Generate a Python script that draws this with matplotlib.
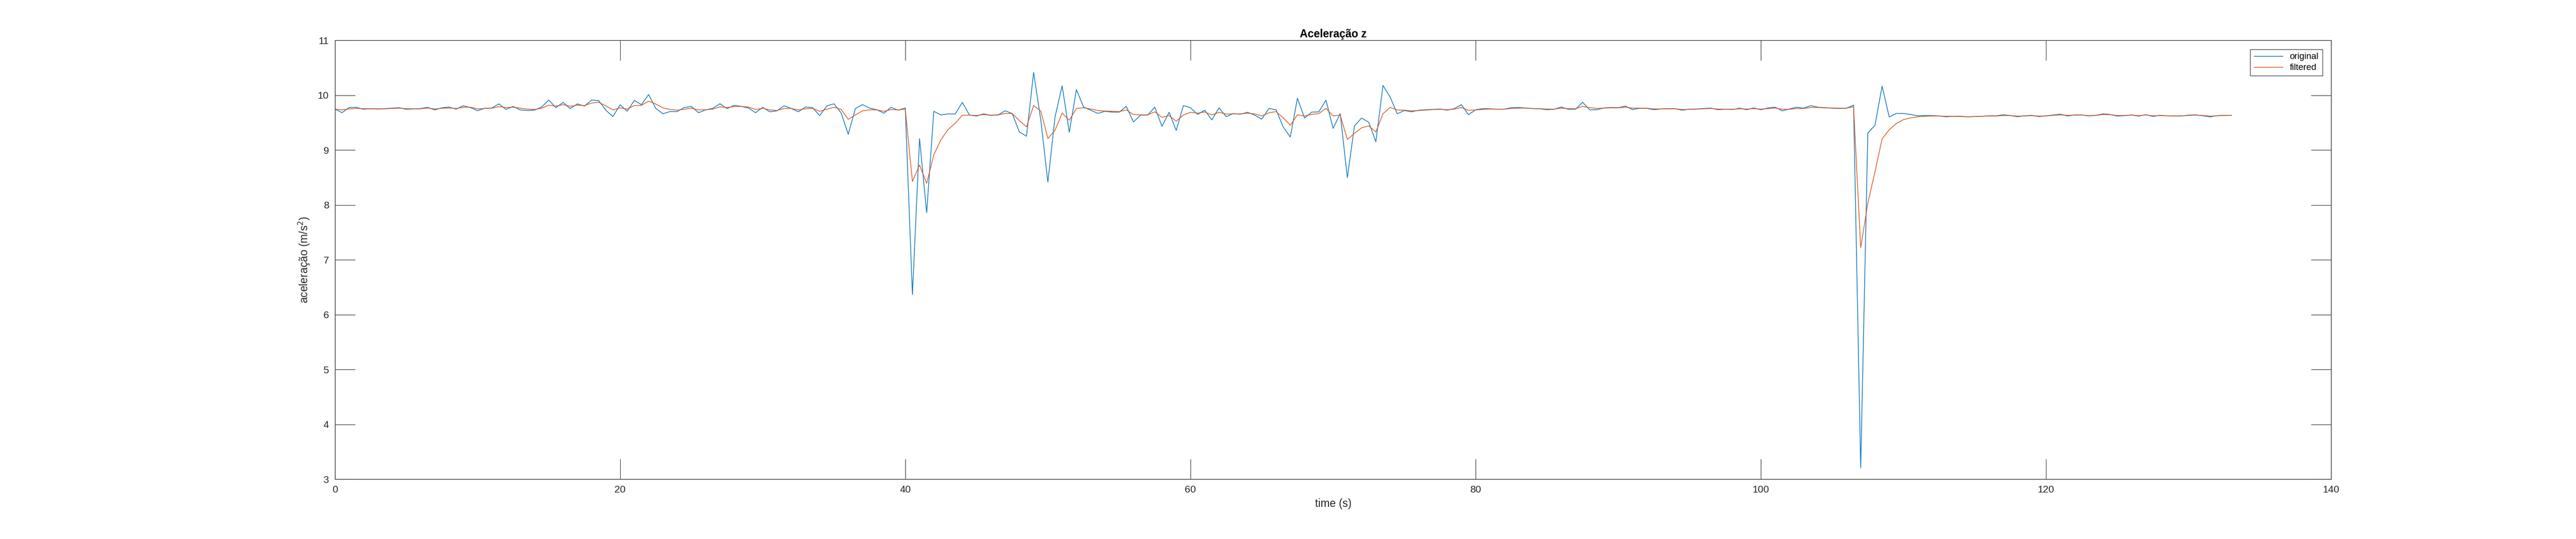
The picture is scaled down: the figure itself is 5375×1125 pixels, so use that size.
import numpy as np
import matplotlib

matplotlib.use("Agg")
import matplotlib.pyplot as plt

plt.rcParams["font.family"] = ["Liberation Sans", "DejaVu Sans"]

# sample period of the recording (s)
SAMPLE_PERIOD = 0.5

# acceleration z, raw signal (m/s^2), one value every 0.5 s from t = 0
original = [
    9.745, 9.68, 9.774, 9.777, 9.742, 9.754, 9.745, 9.754, 9.762, 9.771,
    9.742, 9.748, 9.754, 9.777, 9.73, 9.768, 9.783, 9.745, 9.806, 9.774,
    9.716, 9.759, 9.765, 9.84, 9.739, 9.794, 9.73, 9.72, 9.727, 9.783,
    9.91, 9.771, 9.867, 9.754, 9.84, 9.80, 9.91, 9.90, 9.725, 9.61,
    9.823, 9.707, 9.904, 9.826, 10.01, 9.76, 9.66, 9.70, 9.70, 9.774,
    9.794, 9.68, 9.73, 9.76, 9.843, 9.754, 9.814, 9.794, 9.765, 9.68,
    9.777, 9.696, 9.713, 9.806, 9.757, 9.696, 9.783, 9.771, 9.626, 9.804,
    9.842, 9.676, 9.286, 9.755, 9.827, 9.763, 9.734, 9.67, 9.778, 9.725,
    9.766, 6.363, 9.207, 7.856, 9.705, 9.638, 9.658, 9.655, 9.868, 9.638,
    9.618, 9.658, 9.629, 9.638, 9.714, 9.664, 9.33, 9.251, 10.415, 9.55,
    8.415, 9.60, 10.17, 9.323, 10.10, 9.783, 9.725, 9.667, 9.705, 9.69,
    9.69, 9.795, 9.51, 9.635, 9.638, 9.78, 9.431, 9.687, 9.355, 9.81,
    9.769, 9.649, 9.725, 9.547, 9.769, 9.608, 9.664, 9.652, 9.687, 9.635,
    9.562, 9.757, 9.734, 9.42, 9.236, 9.943, 9.582, 9.69, 9.695, 9.908,
    9.393, 9.663, 8.496, 9.439, 9.582, 9.506, 9.151, 10.176, 9.966, 9.66,
    9.719, 9.696, 9.725, 9.733, 9.739, 9.748, 9.725, 9.754, 9.826, 9.643,
    9.733, 9.754, 9.751, 9.745, 9.745, 9.771, 9.774, 9.765, 9.754, 9.751,
    9.734, 9.742, 9.783, 9.742, 9.742, 9.87, 9.731, 9.734, 9.766, 9.774,
    9.771, 9.8, 9.737, 9.76, 9.757, 9.734, 9.748, 9.754, 9.751, 9.725,
    9.745, 9.748, 9.757, 9.763, 9.734, 9.745, 9.737, 9.763, 9.734, 9.766,
    9.734, 9.766, 9.78, 9.714, 9.747, 9.78, 9.761, 9.808, 9.78, 9.77,
    9.761, 9.756, 9.761, 9.818, 3.205, 9.311, 9.448, 10.163, 9.60, 9.666,
    9.666, 9.647, 9.623, 9.628, 9.628, 9.619, 9.605, 9.614, 9.614, 9.605,
    9.609, 9.614, 9.623, 9.623, 9.642, 9.628, 9.606, 9.623, 9.632, 9.608,
    9.623, 9.638, 9.652, 9.62, 9.638, 9.638, 9.62, 9.632, 9.658, 9.646,
    9.617, 9.626, 9.638, 9.617, 9.643, 9.611, 9.632, 9.623, 9.62, 9.62,
    9.635, 9.64, 9.623, 9.603, 9.626, 9.632, 9.632,
]

# same signal after the low-pass filter
filtered = [
    9.745, 9.73, 9.748, 9.757, 9.754, 9.751, 9.751, 9.75, 9.757, 9.762,
    9.754, 9.75, 9.75, 9.765, 9.748, 9.76, 9.765, 9.757, 9.777, 9.78,
    9.75, 9.757, 9.762, 9.79, 9.774, 9.78, 9.762, 9.745, 9.739, 9.76,
    9.817, 9.80, 9.826, 9.797, 9.817, 9.81, 9.855, 9.87, 9.806, 9.73,
    9.768, 9.745, 9.81, 9.814, 9.89, 9.838, 9.768, 9.739, 9.725, 9.742,
    9.762, 9.73, 9.733, 9.745, 9.786, 9.774, 9.791, 9.794, 9.783, 9.739,
    9.76, 9.73, 9.72, 9.757, 9.757, 9.73, 9.75, 9.76, 9.705, 9.743,
    9.78, 9.74, 9.559, 9.638, 9.714, 9.731, 9.731, 9.705, 9.737, 9.731,
    9.743, 8.427, 8.727, 8.392, 8.91, 9.187, 9.373, 9.487, 9.632, 9.635,
    9.629, 9.644, 9.635, 9.638, 9.667, 9.664, 9.536, 9.422, 9.81, 9.711,
    9.21, 9.36, 9.672, 9.541, 9.757, 9.769, 9.748, 9.719, 9.71, 9.705,
    9.699, 9.73, 9.646, 9.64, 9.64, 9.696, 9.594, 9.629, 9.524, 9.638,
    9.687, 9.672, 9.693, 9.638, 9.687, 9.655, 9.658, 9.658, 9.67, 9.658,
    9.62, 9.678, 9.699, 9.588, 9.451, 9.64, 9.62, 9.649, 9.663, 9.76,
    9.62, 9.637, 9.192, 9.302, 9.404, 9.439, 9.329, 9.66, 9.777, 9.73,
    9.725, 9.713, 9.719, 9.727, 9.736, 9.742, 9.733, 9.745, 9.774, 9.722,
    9.73, 9.739, 9.745, 9.745, 9.745, 9.757, 9.762, 9.762, 9.757, 9.754,
    9.745, 9.745, 9.763, 9.754, 9.751, 9.795, 9.771, 9.757, 9.763, 9.768,
    9.768, 9.78, 9.763, 9.763, 9.76, 9.748, 9.748, 9.751, 9.751, 9.737,
    9.742, 9.745, 9.751, 9.757, 9.745, 9.745, 9.742, 9.751, 9.745, 9.754,
    9.745, 9.754, 9.766, 9.742, 9.742, 9.756, 9.756, 9.775, 9.775, 9.766,
    9.766, 9.761, 9.761, 9.79, 7.219, 8.033, 8.601, 9.202, 9.368, 9.482,
    9.553, 9.586, 9.605, 9.614, 9.619, 9.619, 9.614, 9.614, 9.609, 9.605,
    9.609, 9.614, 9.619, 9.619, 9.628, 9.628, 9.617, 9.62, 9.626, 9.617,
    9.62, 9.632, 9.64, 9.632, 9.635, 9.635, 9.626, 9.632, 9.646, 9.643,
    9.629, 9.629, 9.635, 9.626, 9.638, 9.623, 9.626, 9.623, 9.623, 9.623,
    9.629, 9.635, 9.629, 9.617, 9.623, 9.629, 9.632,
]

x_ticks = [0, 20, 40, 60, 80, 100, 120, 140]
y_ticks = [3, 4, 5, 6, 7, 8, 9, 10, 11]

AX_COLOR = "#262626"
time = np.arange(len(original)) * SAMPLE_PERIOD

fig = plt.figure(figsize=(5375 / 150, 1125 / 150), dpi=150)
ax = fig.add_axes([0.13, 0.1111, 0.775, 0.8142])

ax.plot(time, original, color="#0072BD", lw=0.7, label="original")
ax.plot(time, filtered, color="#D95319", lw=0.7, label="filtered")

ax.set_xlim(0, 140)
ax.set_ylim(3, 11)
ax.set_xticks(x_ticks)
ax.set_yticks(y_ticks)
ax.tick_params(direction="in", length=20, width=0.5, colors=AX_COLOR,
               labelsize=10, top=True, right=True, pad=6)
for s in ax.spines.values():
    s.set_color(AX_COLOR)
    s.set_linewidth(0.6)

ax.set_title("Aceleração z", fontsize=11, fontweight="bold", color="black", pad=3)
ax.set_xlabel("time (s)", fontsize=11, color=AX_COLOR)
ax.set_ylabel("aceleração (m/s$^2$)", fontsize=11, color=AX_COLOR, labelpad=6)

leg = ax.legend(loc="upper right", fontsize=9, handlelength=3.2, fancybox=False,
                framealpha=1, borderaxespad=1.0, labelspacing=0.3)
leg.get_frame().set_edgecolor(AX_COLOR)
leg.get_frame().set_linewidth(0.5)

fig.savefig("out.png", dpi=150)
